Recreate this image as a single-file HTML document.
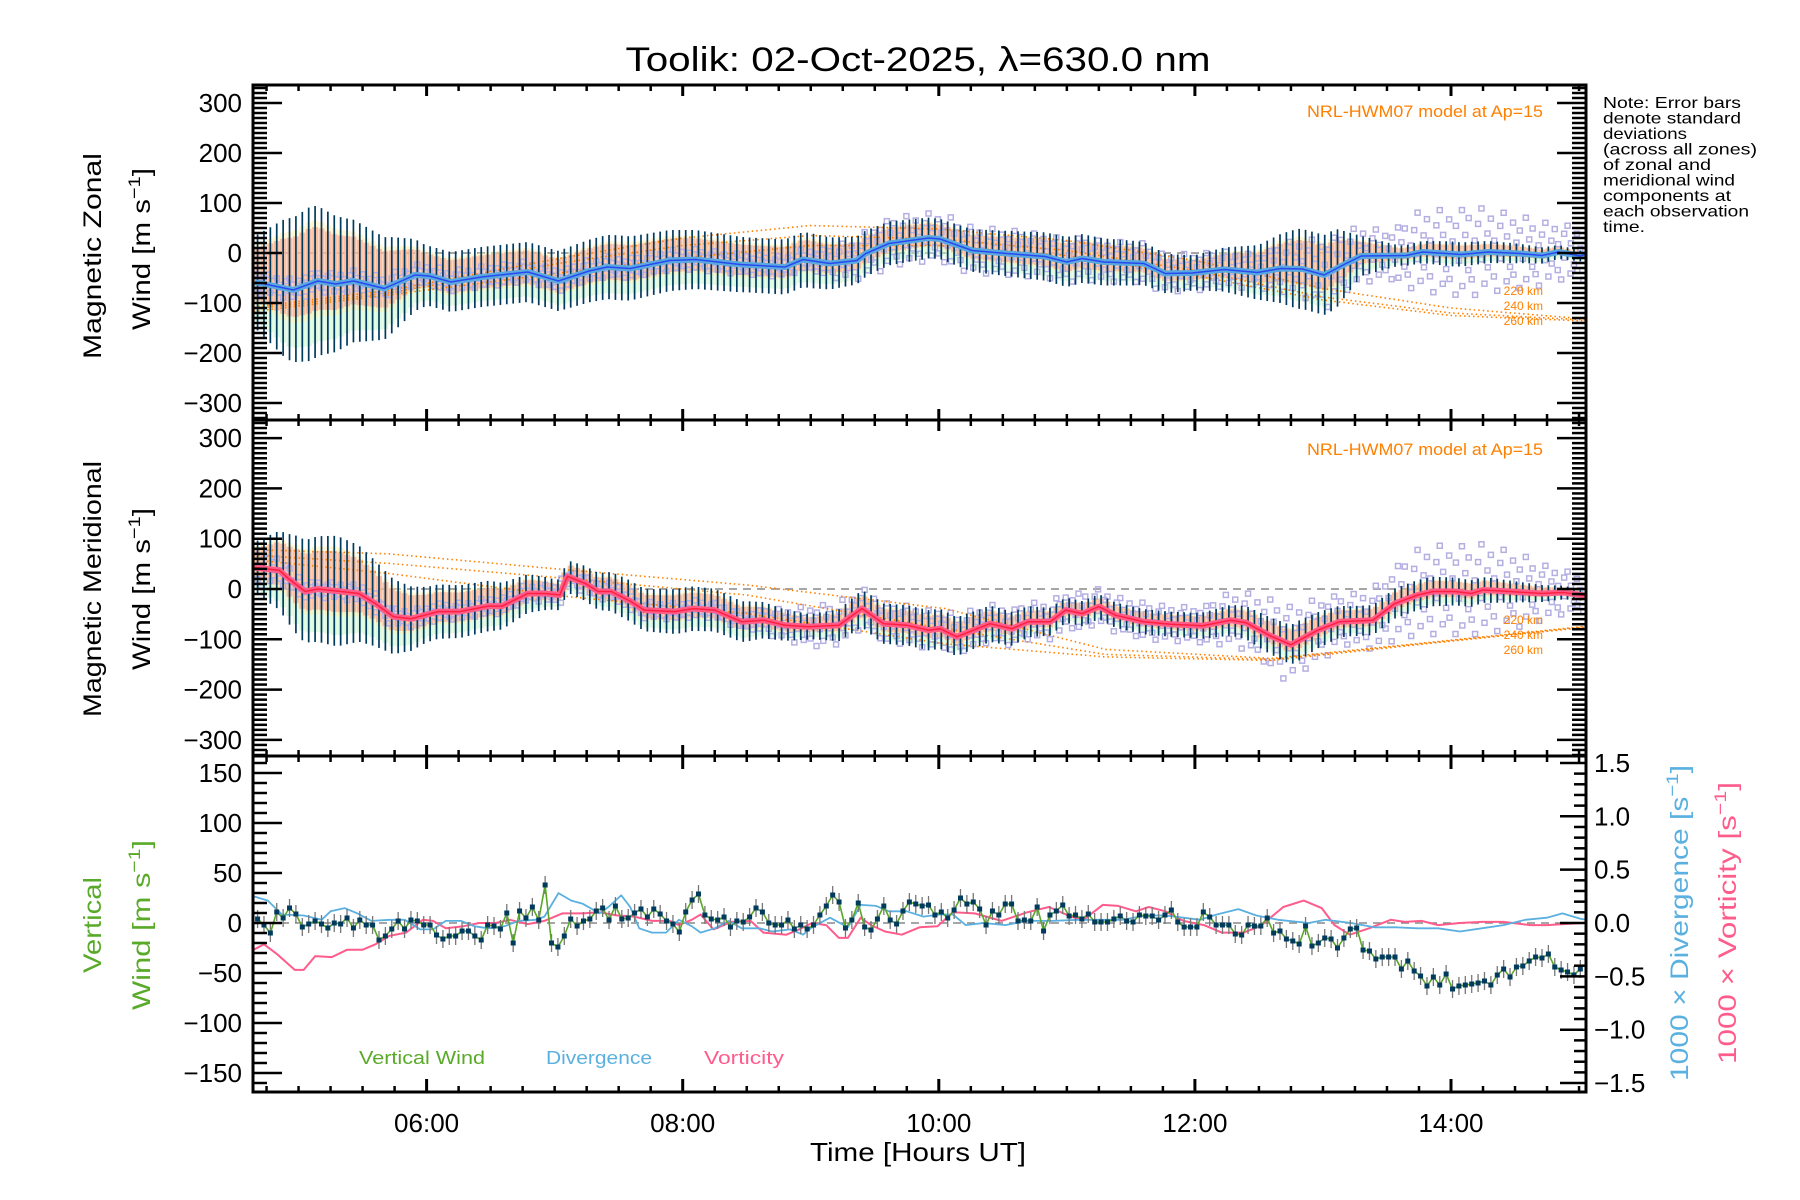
<!DOCTYPE html>
<html><head><meta charset="utf-8"><title>Toolik wind chart</title>
<style>
html,body{margin:0;padding:0;background:#fff;}
svg{display:block;font-family:"Liberation Sans",sans-serif;}
</style></head>
<body>
<svg id="chart" width="1800" height="1200" viewBox="0 0 1800 1200" xmlns="http://www.w3.org/2000/svg">
<rect x="0" y="0" width="1800" height="1200" fill="#fff"/>
<text x="918" y="71" font-size="34" text-anchor="middle" textLength="585" lengthAdjust="spacingAndGlyphs">Toolik: 02-Oct-2025, λ=630.0 nm</text>
<g font-size="16">
<text x="1603" y="108" textLength="138" lengthAdjust="spacingAndGlyphs">Note: Error bars</text>
<text x="1603" y="123.5" textLength="138" lengthAdjust="spacingAndGlyphs">denote standard</text>
<text x="1603" y="139" textLength="84" lengthAdjust="spacingAndGlyphs">deviations</text>
<text x="1603" y="154.5" textLength="154" lengthAdjust="spacingAndGlyphs">(across all zones)</text>
<text x="1603" y="170" textLength="108" lengthAdjust="spacingAndGlyphs">of zonal and</text>
<text x="1603" y="185.5" textLength="132" lengthAdjust="spacingAndGlyphs">meridional wind</text>
<text x="1603" y="201" textLength="128" lengthAdjust="spacingAndGlyphs">components at</text>
<text x="1603" y="216.5" textLength="146" lengthAdjust="spacingAndGlyphs">each observation</text>
<text x="1603" y="232" textLength="42" lengthAdjust="spacingAndGlyphs">time.</text>
</g>
<g id="layer"></g>
</svg>
<script>
// ---------------- DATA ----------------
const zonT=[4.66,4.96,5.15,5.29,5.43,5.67,5.91,6.02,6.19,6.43,6.79,7.03,7.27,7.41,7.59,7.90,8.10,8.45,8.80,8.94,9.15,9.36,9.43,9.61,9.92,10.01,10.26,10.53,10.83,11.0,11.12,11.29,11.6,11.77,11.98,12.23,12.49,12.67,12.84,13.01,13.18,13.3,13.65,13.78,14.08,14.29,14.54,14.71,14.84,15.01,15.06];
const zonV=[-58,-74,-56,-62,-56,-71,-44,-46,-58,-48,-38,-56,-36,-28,-31,-15,-13,-23,-28,-13,-21,-15,-1,19,30,28,5,-1,-7,-18,-11,-18,-21,-41,-40,-33,-39,-31,-32,-44,-21,-6,-5,2,-3,2,-1,-5,2,-6,-2];
const zonSigT=[4.65,4.9,5.1,5.4,5.7,6.0,6.5,7.0,7.5,8.0,8.5,9.0,9.5,10.0,10.5,11.0,11.5,12.0,12.5,12.8,13.1,13.3,13.6,14.0,14.5,15.06];
const zonSigV=[90,140,155,125,100,60,60,60,65,60,55,55,45,40,45,50,45,35,55,80,80,40,20,25,20,10];
const zonSpreadT=[4.65,9,9.5,10,12.5,13,13.5,13.8,14.2,14.6,15.06];
const zonSpreadV=[15,15,35,35,25,50,35,60,65,50,35];

const merT=[4.65,4.85,4.92,5.05,5.15,5.33,5.47,5.60,5.74,5.88,6.09,6.26,6.48,6.59,6.79,6.93,7.04,7.10,7.24,7.34,7.44,7.59,7.70,7.94,8.08,8.25,8.46,8.63,8.80,8.98,9.22,9.40,9.57,9.75,9.92,10.01,10.14,10.40,10.57,10.70,10.87,10.99,11.12,11.25,11.38,11.6,11.81,12.06,12.28,12.4,12.58,12.75,12.96,13.13,13.39,13.56,13.74,13.86,14.03,14.16,14.25,14.46,14.71,14.88,15.01,15.06];
const merV=[43,37,21,-5,0,-5,-9,-29,-55,-59,-45,-45,-34,-34,-9,-9,-12,25,11,-5,-5,-24,-42,-45,-39,-42,-65,-62,-72,-75,-72,-39,-69,-72,-82,-79,-95,-69,-79,-65,-65,-42,-49,-35,-52,-65,-70,-73,-62,-67,-92,-111,-82,-65,-62,-29,-12,-5,-5,-9,-2,-5,-9,-7,-12,-14];
const merSigT=[4.65,5.0,5.3,5.6,6.0,6.5,7.0,7.5,8.0,8.5,9.0,9.5,10.0,10.5,11.0,11.5,12.0,12.5,12.8,13.2,13.5,13.8,14.3,15.06];
const merSigV=[50,100,110,85,55,50,30,40,45,40,25,40,40,35,25,25,25,35,40,30,30,30,25,10];
const merSpreadT=[4.65,5,8.5,9,10,12,12.7,13.2,13.8,14.3,15.06];
const merSpreadV=[30,12,12,30,28,25,55,35,65,65,22];
const scatterFactors=[1.1,-0.8,0.4,-1.3,0.9,-0.2,1.4,-1.0,0.6,-0.5];

const zonModT=[4.65,5.7,7.1,8.0,9.0,10.0,11.0,12.0,13.0,14.0,15.06];
const zonMod220=[-108,-75,-8,30,55,48,25,-15,-71,-110,-132];
const zonMod240=[-112,-80,-18,15,35,28,5,-35,-88,-120,-134];
const zonMod260=[-117,-84,-38,-10,15,15,-5,-45,-94,-125,-136];
const merModT=[4.65,5.7,7.1,8.5,10.05,11.3,12.6,13.8,15.06];
const merMod220=[78,70,38,8,-39,-120,-138,-107,-74];
const merMod240=[67,51,21,-12,-79,-130,-140,-108,-75];
const merMod260=[58,31,-15,-49,-109,-135,-142,-109,-76];

const obsStart=4.68, obsEnd=15.01;
const vertV=[4,-2,-10,11,5,15,9,-4,-1,2,-1,-5,0,-1,5,-5,3,-2,-2,-17,-13,-6,2,-6,3,2,-2,-2,-12,-16,-13,-13,-8,-8,-13,-17,-2,-3,-6,10,-20,12,5,16,3,38,-20,-24,-13,4,-3,2,4,12,15,3,17,4,5,10,14,6,14,9,2,-1,-9,11,23,29,8,4,3,6,-4,2,1,6,15,11,0,-2,-2,3,-6,-2,-6,-2,8,17,28,21,-5,3,20,-4,-7,4,17,3,-1,12,21,19,17,18,8,11,
5,13,25,19,21,14,-2,12,8,19,19,2,3,2,16,-8,8,12,18,7,8,4,9,1,1,1,4,7,2,1,8,7,7,3,8,13,1,-4,-4,-4,11,6,-2,-2,-2,-11,-12,-2,-3,-3,5,-10,-8,-16,-18,-21,-3,-23,-20,-15,-16,-25,-15,-6,-5,-27,-28,-36,-34,-34,-34,-46,-38,-48,-53,-63,-54,-62,-51,-66,-63,-62,-61,-60,-58,-62,-52,-46,-54,-44,-43,-38,-34,-35,-31,-44,-47,-49,-52,-46];
const vertErr=9;

const divT=[4.65,4.76,4.87,5.04,5.18,5.25,5.36,5.46,5.57,5.71,5.83,5.95,6.05,6.15,6.27,6.37,6.48,6.61,6.72,6.85,6.92,7.03,7.13,7.22,7.35,7.42,7.52,7.59,7.66,7.76,7.87,7.97,8.07,8.14,8.25,8.36,8.46,8.60,8.70,8.84,8.94,9.01,9.15,9.29,9.39,9.51,9.61,9.75,9.88,10.01,10.11,10.21,10.35,10.52,10.69,10.89,11.09,11.30,11.44,11.61,11.77,11.91,12.04,12.17,12.34,12.48,12.65,12.89,13.02,13.22,13.40,13.57,13.74,13.90,14.07,14.24,14.41,14.58,14.75,14.87,15.01,15.06];
const divV=[.25,.21,.08,.07,.03,.11,.14,.09,.02,.03,.03,-.06,-.06,.02,.02,-.03,-.05,-.03,.02,.03,.06,.28,.21,.18,.09,.15,.26,.15,-.05,-.09,-.09,.03,-.03,-.09,-.05,.02,-.05,-.05,-.08,-.06,-.11,-.04,.05,-.04,.17,.16,.11,.11,.06,.08,.08,-.02,0,-.02,.02,.02,.03,.03,.03,.07,.07,.05,.03,.08,.13,.07,.03,0,.03,0,-.04,-.04,-.05,-.05,-.08,-.05,-.02,.03,.05,.09,.04,.03];
const vorT=[4.65,4.73,4.83,4.97,5.04,5.13,5.26,5.38,5.50,5.60,5.71,5.84,5.97,6.05,6.15,6.29,6.41,6.54,6.65,6.79,6.92,7.06,7.22,7.35,7.49,7.62,7.76,7.90,7.97,8.07,8.14,8.24,8.38,8.53,8.63,8.81,8.91,9.01,9.12,9.22,9.29,9.39,9.47,9.58,9.71,9.85,9.99,10.11,10.28,10.49,10.69,10.86,11.03,11.13,11.28,11.40,11.54,11.64,11.77,11.91,12.07,12.21,12.38,12.51,12.69,12.85,12.99,13.09,13.21,13.36,13.53,13.64,13.77,13.90,14.07,14.24,14.41,14.62,14.75,15.02,15.06];
const vorV=[-.25,-.2,-.29,-.44,-.44,-.31,-.32,-.25,-.25,-.2,-.12,-.09,.03,.02,-.05,-.03,0,0,.03,-.01,.02,.09,.09,.1,.07,.06,.02,.02,-.02,.03,.08,-.06,.01,.02,-.09,-.11,-.06,0,-.02,-.14,-.14,.05,-.02,-.08,-.11,-.04,-.03,.1,.09,.02,.1,.15,.06,.03,.17,.16,.11,.15,.11,.02,-.02,-.09,-.09,-.03,.15,.21,.14,-.02,-.11,-.05,.03,.01,.02,-.02,0,.01,.01,-.02,-.02,0,0];

const xTickHours=[6,8,10,12,14];
const xTickLabels=["06:00","08:00","10:00","12:00","14:00"];
const windTicks=[300,200,100,0,-100,-200,-300];
const vertTicks=[150,100,50,0,-50,-100,-150];
const rightTicks=[1.5,1.0,0.5,0.0,-0.5,-1.0,-1.5];

// ---------------- AXES ----------------
const L=253,R=1586;
const P=[{top:85,bot:420},{top:420,bot:756},{top:756,bot:1092}];
const X=h=>426.6+(h-6)*128.05;
const Y1=v=>253-v*0.5;
const Y2=v=>589-v*0.503;
const Y3=v=>923-v*1.0;
const Y3r=d=>923-d*106.7;
const NS="http://www.w3.org/2000/svg";
const layer=document.getElementById('layer');
function mk(tag,attrs,parent){const e=document.createElementNS(NS,tag);for(const k in attrs)e.setAttribute(k,attrs[k]);(parent||layer).appendChild(e);return e;}
function interp(ts,vs,t){if(t<=ts[0])return vs[0];for(let i=1;i<ts.length;i++){if(t<=ts[i]){const f=(t-ts[i-1])/(ts[i]-ts[i-1]);return vs[i-1]+f*(vs[i]-vs[i-1]);}}return vs[vs.length-1];}
const nObs=vertV.length;
const obsDt=(obsEnd-obsStart)/(nObs-1);

const defs=mk('defs',{});
P.forEach((p,i)=>{const c=mk('clipPath',{id:'clip'+i},defs);mk('rect',{x:L,y:p.top,width:R-L,height:p.bot-p.top},c);});

function windPanel(pi,T,V,sigT,sigV,spT,spV,mT,m1,m2,m3,Yf,lineCol,name){
  const g=mk('g',{'clip-path':'url(#clip'+pi+')'});
  
  
  const z=mk('line',{x1:L,x2:R,y1:Yf(0),y2:Yf(0),stroke:'#888','stroke-width':1.5,'stroke-dasharray':'8,6'},g);
  
  
  const sh=mk('g',{},g);
  
  
  for(let i=0;i<nObs;i++){
    const t=obsStart+i*obsDt, m=interp(T,V,t), s=interp(sigT,sigV,t)*0.85;
    const x=X(t)-3;
    mk('rect',{x:x,y:Yf(m-0.3*s),width:6,height:Yf(m-0.95*s)-Yf(m-0.3*s),fill:'rgba(200,245,205,0.6)'},sh);
    mk('rect',{x:x,y:Yf(m+0.95*s),width:6,height:Yf(m-0.55*s)-Yf(m+0.95*s),fill:'rgba(255,236,170,0.55)'},sh);
    mk('rect',{x:x,y:Yf(m+0.85*s),width:6,height:Yf(m-0.45*s)-Yf(m+0.85*s),fill:'rgba(250,172,148,0.75)'},sh);
  }
  const sc=mk('g',{},g);
  
  
  for(let i=0;i<nObs;i++){
    const t=obsStart+i*obsDt, m=interp(T,V,t), sp=interp(spT,spV,t);
    for(let k=0;k<3;k++){
      const f=scatterFactors[(i*3+k)%scatterFactors.length];
      mk('rect',{x:X(t)-2.5+(k-1)*3,y:Yf(m+sp*f)-2.5,width:5,height:5,fill:'none',stroke:'#b4afe2','stroke-width':1.5},sc);
    }
  }
  [[m1,'220'],[m2,'240'],[m3,'260']].forEach(([arr,alt])=>{
    let d='';for(let t=4.65;t<=15.07;t+=0.05){d+=(d?'L':'M')+X(t).toFixed(1)+','+Yf(interp(mT,arr,t)).toFixed(1);}
    const p=mk('path',{d:d,fill:'none',stroke:'#ff8000','stroke-width':1.6,'stroke-dasharray':'1.5,3'},g);
    
    
  });
  const eb=mk('g',{},g);
  
  
  for(let i=0;i<nObs;i++){
    const t=obsStart+i*obsDt, m=interp(T,V,t), s=interp(sigT,sigV,t);
    mk('line',{x1:X(t),x2:X(t),y1:Yf(m+s),y2:Yf(m-s),stroke:'#003b5e','stroke-width':1.7},eb);
  }
  let d='';T.forEach((t,i)=>{d+=(i?'L':'M')+X(t).toFixed(1)+','+Yf(V[i]).toFixed(1);});
  const ml=mk('path',{d:d,fill:'none',stroke:lineCol[0],'stroke-width':6,'stroke-linejoin':'round'},g);
  
  
  mk('path',{d:d,fill:'none',stroke:lineCol[1],'stroke-width':1.5},g);
}
windPanel(0,zonT,zonV,zonSigT,zonSigV,zonSpreadT,zonSpreadV,zonModT,zonMod220,zonMod240,zonMod260,Y1,['#5aa8e0','#2848f0'],'zonal');
windPanel(1,merT,merV,merSigT,merSigV,merSpreadT,merSpreadV,merModT,merMod220,merMod240,merMod260,Y2,['#ff5c8a','#ff2040'],'meridional');

const g3=mk('g',{'clip-path':'url(#clip2)'});


const z3=mk('line',{x1:L,x2:R,y1:Y3(0),y2:Y3(0),stroke:'#888','stroke-width':1.5,'stroke-dasharray':'8,6'},g3);


function series(T,V,Yf,col,w,name){
  let d='';T.forEach((t,i)=>{d+=(i?'L':'M')+X(t).toFixed(1)+','+Yf(V[i]).toFixed(1);});
  const p=mk('path',{d:d,fill:'none',stroke:col,'stroke-width':w,'stroke-linejoin':'round'},g3);
  
  
}
series(vorT,vorV,Y3r,'#ff5c8c',2,'vorticity-line');
series(divT,divV,Y3r,'#5ab0e0',1.8,'divergence-line');
const vT=vertV.map((v,i)=>obsStart+i*obsDt);
const veb=mk('g',{},g3);


vT.forEach((t,i)=>{mk('line',{x1:X(t),x2:X(t),y1:Y3(vertV[i]+vertErr),y2:Y3(vertV[i]-vertErr),stroke:'#777','stroke-width':1.3},veb);});
series(vT,vertV,Y3,'#5aa82a',1.6,'vertical-wind-line');
const vpts=mk('g',{},g3);


vT.forEach((t,i)=>{mk('rect',{x:X(t)-2.5,y:Y3(vertV[i])-2.5,width:5,height:5,fill:'#003b5e'},vpts);});

const ax=mk('g',{});


P.forEach(p=>{mk('rect',{x:L,y:p.top,width:R-L,height:p.bot-p.top,fill:'none',stroke:'#000','stroke-width':3},ax);});
P.forEach((p,pi)=>{
  for(let q=19;q<=60;q++){const h=q/4;const x=X(h);if(x<L||x>R)continue;const maj=(q%8===0);const len=maj?(pi===2?13:11):6;
    mk('line',{x1:x,x2:x,y1:p.top,y2:p.top+len,stroke:'#000','stroke-width':maj?3:2.5},ax);
    mk('line',{x1:x,x2:x,y1:p.bot,y2:p.bot-len,stroke:'#000','stroke-width':maj?3:2.5},ax);}
});
function yTicks(p,Yf,lo,hi,step,majStep,lenMaj,lenMin,side){
  for(let v=lo;v<=hi+1e-9;v+=step){const y=Yf(v);if(y<p.top||y>p.bot)continue;const maj=Math.abs(v/majStep-Math.round(v/majStep))<1e-6;const len=maj?lenMaj:lenMin;
    const x0=side==='L'?L:R, x1=side==='L'?L+len:R-len;
    mk('line',{x1:x0,x2:x1,y1:y,y2:y,stroke:'#000','stroke-width':2.5},ax);}
}
yTicks(P[0],Y1,-340,340,10,100,29,14,'L');yTicks(P[0],Y1,-340,340,10,100,29,14,'R');
yTicks(P[1],Y2,-340,340,10,100,29,14,'L');yTicks(P[1],Y2,-340,340,10,100,29,14,'R');
yTicks(P[2],Y3,-170,170,10,50,29,14,'L');yTicks(P[2],Y3r,-1.6,1.6,0.1,0.5,26,12,'R');

const tl=mk('g',{'font-size':26});


function fmt(v){return (v<0?'\u2212':'')+Math.abs(v);}
windTicks.forEach(v=>{
  const a=mk('text',{x:242,y:Y1(v)+9,'text-anchor':'end'},tl);a.textContent=fmt(v);
  
  
  const b=mk('text',{x:242,y:Y2(v)+9,'text-anchor':'end'},tl);b.textContent=fmt(v);
  
  
});
vertTicks.forEach(v=>{const a=mk('text',{x:242,y:Y3(v)+9,'text-anchor':'end'},tl);a.textContent=fmt(v);
  
  });
rightTicks.forEach(v=>{const a=mk('text',{x:1594,y:Y3r(v)+9},tl);a.textContent=(v<0?'\u2212':'')+Math.abs(v).toFixed(1);
  
  });
xTickHours.forEach((h,i)=>{const a=mk('text',{x:X(h),y:1132,'text-anchor':'middle'},tl);a.textContent=xTickLabels[i];
  
  });

function rot(txt,x,y,len,col,name,sup){
  const t=mk('text',{x:x,y:y,transform:'rotate(-90 '+x+' '+y+')','text-anchor':'middle','font-size':25,fill:col,textLength:len,lengthAdjust:'spacingAndGlyphs'});
  
  
  if(sup){const s1=mk('tspan',{},t);s1.textContent=txt;const s2=mk('tspan',{dy:-10,'font-size':17},t);s2.textContent='\u22121';const s3=mk('tspan',{dy:10},t);s3.textContent=']';}
  else t.textContent=txt;
}
rot('Magnetic Zonal',101,256,206,'#000','zonal-y-title-line1');
rot('Wind [m s',150,249,162,'#000','zonal-y-title-line2',true);
rot('Magnetic Meridional',101,589,256,'#000','meridional-y-title-line1');
rot('Wind [m s',150,589,162,'#000','meridional-y-title-line2',true);
rot('Vertical',101,925,96,'#5aaa2a','vertical-y-title-line1');
rot('Wind [m s',150,925,170,'#5aaa2a','vertical-y-title-line2',true);
rot('1000 \u00d7 Divergence [s',1688,923,316,'#5ab0e0','divergence-axis-title',true);
rot('1000 \u00d7 Vorticity [s',1736,923,282,'#ff5c8c','vorticity-axis-title',true);
const xt=mk('text',{x:918,y:1161,'text-anchor':'middle','font-size':26,textLength:216,lengthAdjust:'spacingAndGlyphs'});
xt.textContent='Time [Hours UT]';



const ml=mk('g',{fill:'#ff8000'});


[117,455].forEach(y=>{const t=mk('text',{x:1543,y:y,'text-anchor':'end','font-size':17,textLength:236,lengthAdjust:'spacingAndGlyphs'},ml);t.textContent='NRL-HWM07 model at Ap=15';
  
  });
[[295,'220 km'],[310,'240 km'],[325,'260 km'],[624,'220 km'],[639,'240 km'],[654,'260 km']].forEach(([y,s])=>{
  const t=mk('text',{x:1543,y:y,'text-anchor':'end','font-size':12},ml);t.textContent=s;
  
  });

[[359,'Vertical Wind','#5aaa2a',126],[546,'Divergence','#5ab0e0',106],[704,'Vorticity','#ff5c8c',80]].forEach(([x,s,c,w])=>{
  const t=mk('text',{x:x,y:1064,fill:c,'font-size':18,textLength:w,lengthAdjust:'spacingAndGlyphs'});t.textContent=s;
  
  });
</script>
</body></html>
